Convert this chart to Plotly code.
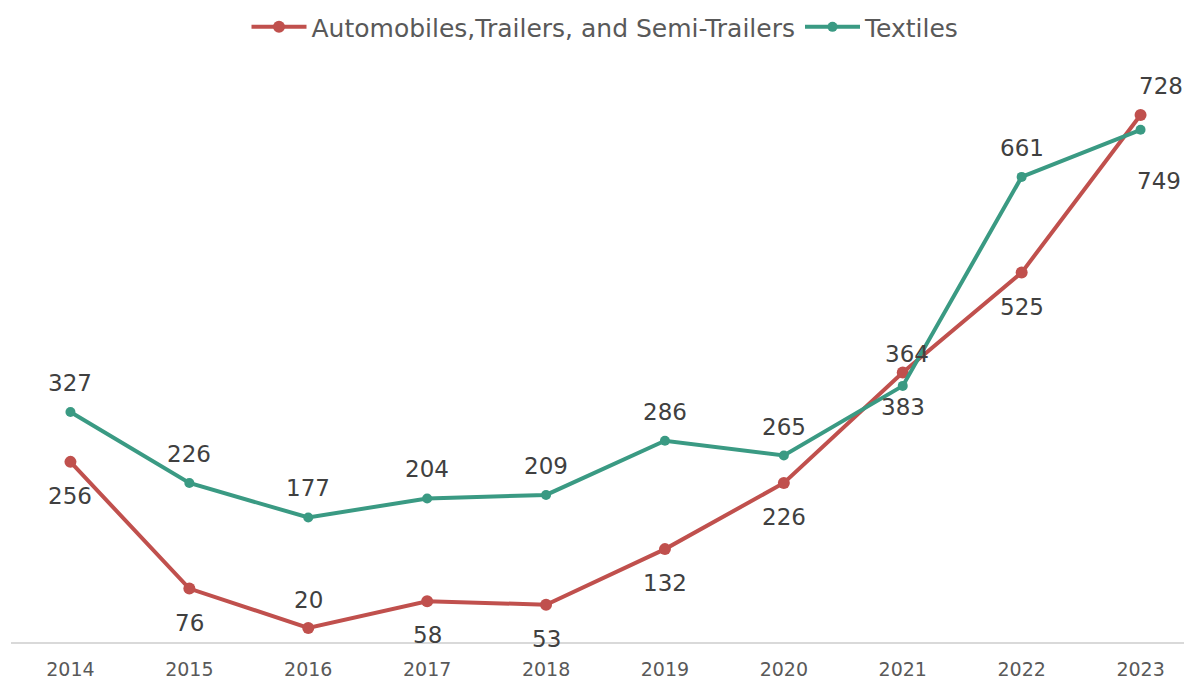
import plotly.graph_objects as go

years = ["2014", "2015", "2016", "2017", "2018", "2019", "2020", "2021", "2022", "2023"]
autos = [256, 76, 20, 58, 53, 132, 226, 383, 525, 749]
textiles = [327, 226, 177, 204, 209, 286, 265, 364, 661, 728]

AUTO_NAME = "Automobiles,Trailers, and Semi-Trailers"
TEX_NAME = "Textiles"

RED = "#C0504D"
TEAL = "#3A9A83"
LABEL_COLOR = "#404040"
FONT = "DejaVu Sans"

# label offsets (pixels) per point
auto_yshift = [-34, -34, 28, -34, -34, -34, -34, -34, -34, -66]
auto_xshift = [0, 0, 0, 0, 0, 0, 0, 0, 0, 18]
tex_yshift = [29, 29, 29, 29, 29, 29, 29, 32, 29, 44]
tex_xshift = [0, 0, 0, 0, 0, 0, 0, 4, 0, 20]

fig = go.Figure()
fig.add_trace(go.Scatter(
    x=years, y=autos, name=AUTO_NAME, mode="lines+markers",
    line=dict(color=RED, width=4), marker=dict(color=RED, size=12),
))
fig.add_trace(go.Scatter(
    x=years, y=textiles, name=TEX_NAME, mode="lines+markers",
    line=dict(color=TEAL, width=4), marker=dict(color=TEAL, size=10),
))

annotations = []
for i, v in enumerate(autos):
    annotations.append(dict(x=i, y=v, xref="x", yref="y", text=str(v), showarrow=False,
                            yshift=auto_yshift[i], xshift=auto_xshift[i],
                            font=dict(family=FONT, size=23, color=LABEL_COLOR)))
for i, v in enumerate(textiles):
    annotations.append(dict(x=i, y=v, xref="x", yref="y", text=str(v), showarrow=False,
                            yshift=tex_yshift[i], xshift=tex_xshift[i],
                            font=dict(family=FONT, size=23, color=LABEL_COLOR)))

fig.update_layout(
    width=1192, height=682,
    margin=dict(l=3, r=0, t=50, b=48),
    paper_bgcolor="white", plot_bgcolor="white",
    font=dict(family=FONT, color="#595959"),
    showlegend=True,
    legend=dict(orientation="h", xref="paper", x=0.5, xanchor="center",
                yref="container", y=0.972, yanchor="middle",
                font=dict(family=FONT, size=25, color="#595959"),
                itemwidth=55, traceorder="normal"),
    xaxis=dict(type="category", range=[-0.5, 9.5], showgrid=False,
               showline=True, linecolor="#D9D9D9", linewidth=1.5,
               ticks="", ticklabelstandoff=9,
               tickfont=dict(family=FONT, size=19, color="#595959"),
               zeroline=False),
    yaxis=dict(range=[0, 830], showgrid=False, showticklabels=False,
               showline=False, zeroline=False, ticks=""),
    annotations=annotations,
)

fig.write_html("out.html")
